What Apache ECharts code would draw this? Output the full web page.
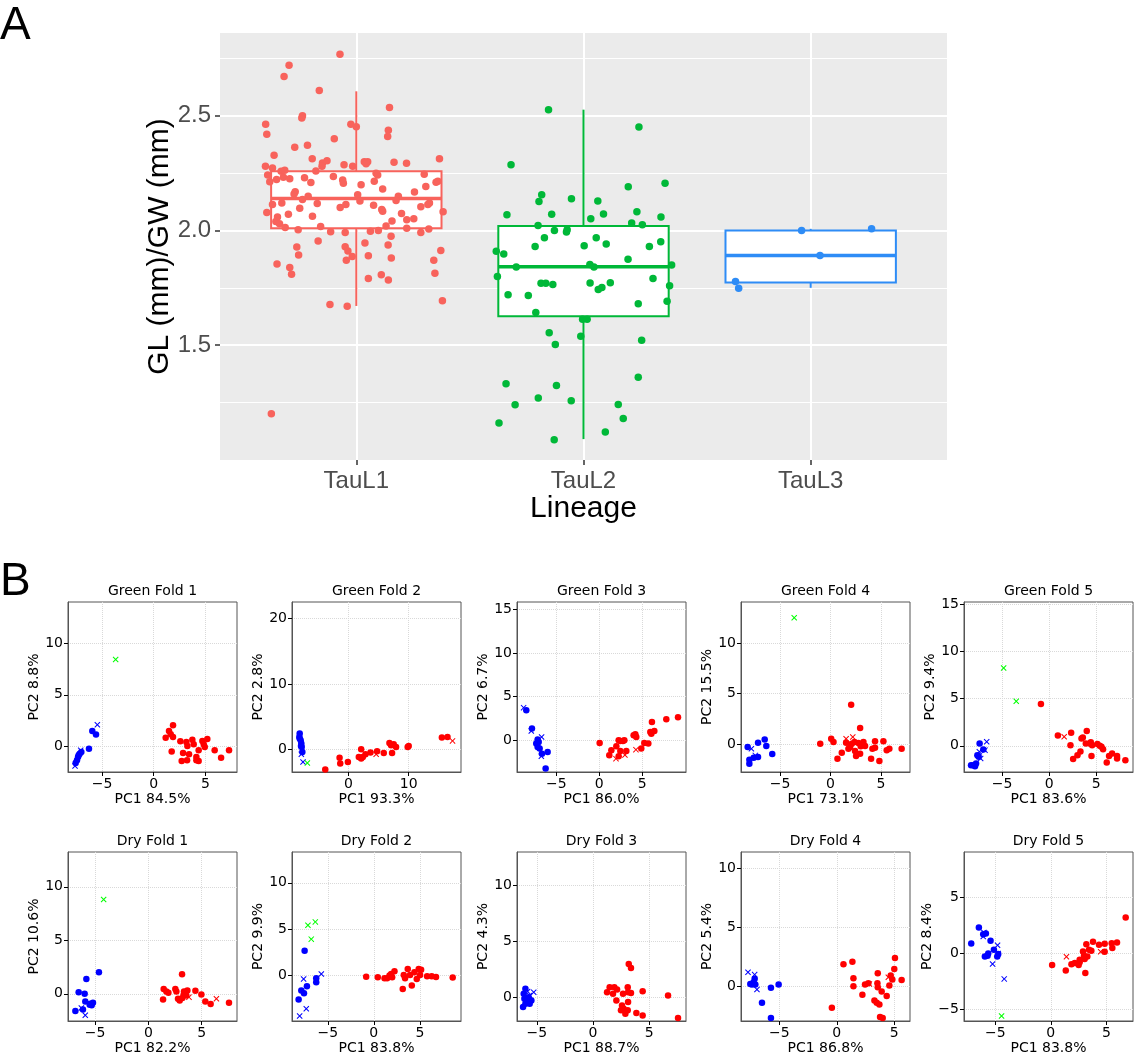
<!DOCTYPE html>
<html>
<head>
<meta charset="utf-8">
<script src="https://cdn.jsdelivr.net/npm/echarts@6/dist/echarts.min.js"></script>
<style>
html, body { margin: 0; padding: 0; background: #fff; }
#main { width: 1135px; height: 1056px; }
</style>
</head>
<body>
<div id="main"></div>
<script>
// ---------- panel A data ----------
var lineages = ['TauL1', 'TauL2', 'TauL3'];
var lineageColors = ['#F8635C', '#00B838', '#2E8CF6'];
// [lower whisker, Q1, median, Q3, upper whisker]
var boxStats = [
    [1.671, 2.009, 2.139, 2.258, 2.606],
    [1.091, 1.626, 1.842, 2.019, 2.526],
    [1.750, 1.773, 1.891, 2.000, 2.007]
];
// [jitter offset, GL/GW]
var tauL1 = [
    [-0.072, 2.767], [-0.296, 2.719], [-0.318, 2.671], [-0.163, 2.609], [0.146, 2.536],
    [-0.237, 2.500], [-0.240, 2.490], [-0.399, 2.462], [-0.394, 2.419], [-0.024, 2.462],
    [0.000, 2.452], [0.141, 2.436], [0.138, 2.409], [-0.097, 2.399], [-0.271, 2.362],
    [-0.215, 2.371], [-0.362, 2.328], [-0.194, 2.312], [-0.149, 2.294], [-0.129, 2.303],
    [-0.151, 2.280], [-0.400, 2.280], [-0.369, 2.272], [-0.054, 2.286], [-0.016, 2.280],
    [0.035, 2.299], [0.050, 2.299], [0.043, 2.291], [0.166, 2.297], [0.221, 2.293],
    [0.366, 2.312], [-0.331, 2.258], [-0.315, 2.262], [-0.178, 2.259], [-0.390, 2.241],
    [-0.381, 2.212], [-0.351, 2.222], [-0.321, 2.232], [-0.293, 2.225], [-0.228, 2.230],
    [-0.200, 2.209], [-0.101, 2.235], [-0.060, 2.220], [-0.057, 2.206], [0.087, 2.249],
    [0.094, 2.241], [0.079, 2.214], [0.021, 2.199], [0.116, 2.180], [0.299, 2.245],
    [0.306, 2.191], [0.351, 2.210], [0.359, 2.214], [-0.269, 2.168], [-0.274, 2.159],
    [-0.237, 2.135], [-0.212, 2.149], [-0.369, 2.113], [-0.328, 2.120], [-0.172, 2.117],
    [-0.249, 2.097], [-0.394, 2.078], [-0.299, 2.070], [-0.347, 2.058], [-0.354, 2.039],
    [-0.338, 2.029], [-0.313, 2.013], [-0.256, 2.003], [-0.193, 2.062], [-0.157, 2.017],
    [-0.113, 1.994], [-0.071, 2.100], [-0.046, 2.113], [0.006, 2.155], [0.016, 2.128],
    [0.076, 2.110], [0.112, 2.091], [0.116, 2.084], [0.185, 2.149], [0.175, 2.130],
    [0.256, 2.167], [0.199, 2.074], [0.222, 2.046], [0.253, 2.051], [0.157, 2.041],
    [0.131, 2.019], [0.222, 2.010], [0.284, 2.103], [0.315, 2.113], [0.322, 2.120],
    [0.382, 2.081], [-0.049, 1.991], [0.062, 1.996], [0.097, 2.000], [0.284, 1.991],
    [0.319, 2.006], [0.153, 1.975], [-0.168, 1.954], [-0.262, 1.928], [-0.254, 1.893],
    [-0.049, 1.929], [-0.037, 1.910], [-0.018, 1.886], [-0.044, 1.870], [0.038, 1.945],
    [0.053, 1.890], [0.140, 1.936], [0.154, 1.880], [0.372, 1.913], [0.341, 1.870],
    [-0.349, 1.854], [-0.293, 1.838], [-0.285, 1.809], [0.053, 1.791], [0.110, 1.807],
    [0.141, 1.784], [0.346, 1.813], [-0.116, 1.677], [-0.040, 1.670], [0.379, 1.694],
    [-0.374, 1.201]
];
var tauL2 = [
    [-0.154, 2.526], [0.244, 2.451], [-0.319, 2.286], [0.197, 2.190], [0.359, 2.206],
    [-0.184, 2.155], [-0.196, 2.126], [-0.053, 2.138], [0.063, 2.128], [-0.337, 2.068],
    [-0.140, 2.071], [0.032, 2.051], [0.088, 2.072], [0.235, 2.081], [0.341, 2.058],
    [-0.200, 2.022], [0.212, 2.032], [0.259, 2.025], [-0.128, 2.000], [-0.075, 1.993],
    [-0.072, 2.003], [-0.172, 1.968], [0.056, 1.968], [-0.213, 1.930], [0.003, 1.933],
    [0.100, 1.941], [0.290, 1.930], [0.340, 1.951], [-0.384, 1.909], [-0.351, 1.897],
    [0.196, 1.875], [-0.296, 1.841], [0.028, 1.852], [0.046, 1.841], [0.388, 1.849],
    [-0.379, 1.799], [0.306, 1.791], [-0.187, 1.770], [-0.166, 1.770], [-0.135, 1.764],
    [0.029, 1.771], [0.065, 1.743], [0.081, 1.751], [0.118, 1.772], [0.379, 1.759],
    [-0.332, 1.720], [-0.243, 1.717], [0.368, 1.691], [0.241, 1.681], [-0.210, 1.642],
    [-0.004, 1.613], [0.016, 1.613], [-0.151, 1.554], [-0.012, 1.539], [-0.124, 1.503],
    [0.256, 1.522], [0.241, 1.361], [-0.341, 1.332], [-0.119, 1.325], [-0.199, 1.270],
    [-0.054, 1.258], [-0.301, 1.241], [0.153, 1.242], [0.175, 1.181], [-0.372, 1.161],
    [0.096, 1.122], [-0.129, 1.088]
];
var tauL3 = [
    [-0.040, 2.000], [0.268, 2.007], [0.041, 1.891], [-0.331, 1.777], [-0.317, 1.748]
];
var yTicksA = [1.5, 2.0, 2.5];
var yMinorA = [1.25, 1.75, 2.25, 2.75];

// ---------- panel B data ----------
var foldTitles = ['Green Fold 1', 'Green Fold 2', 'Green Fold 3', 'Green Fold 4', 'Green Fold 5',
    'Dry Fold 1', 'Dry Fold 2', 'Dry Fold 3', 'Dry Fold 4', 'Dry Fold 5'];
var pc1Labels = ['PC1 84.5%', 'PC1 93.3%', 'PC1 86.0%', 'PC1 73.1%', 'PC1 83.6%',
    'PC1 82.2%', 'PC1 83.8%', 'PC1 88.7%', 'PC1 86.8%', 'PC1 83.8%'];
var pc2Labels = ['PC2 8.8%', 'PC2 2.8%', 'PC2 6.7%', 'PC2 15.5%', 'PC2 9.4%',
    'PC2 10.6%', 'PC2 9.9%', 'PC2 4.3%', 'PC2 5.4%', 'PC2 8.4%'];
var foldXTicks = [[-5, 0, 5], [0, 10], [-5, 0, 5], [-5, 0, 5], [-5, 0, 5],
    [-5, 0, 5], [-5, 0, 5], [-5, 0, 5], [-5, 0, 5], [-5, 0, 5]];
var foldYTicks = [[0, 5, 10], [0, 10, 20], [0, 5, 10, 15], [0, 5, 10], [0, 5, 10, 15],
    [0, 5, 10], [0, 5, 10], [0, 5, 10], [0, 5, 10], [-5, 0, 5]];
var foldXRange = [[-8.29, 8.06], [-9.4, 18.7], [-9.57, 10.08], [-8.88, 7.89], [-9.05, 8.9],
    [-7.53, 8.31], [-8.88, 9.46], [-6.77, 8.28], [-8.35, 6.38], [-7.81, 7.4]];
var foldYRange = [[-2.54, 14.06], [-3.48, 22.54], [-3.63, 15.84], [-2.73, 14.05], [-2.78, 15.27],
    [-2.54, 13.25], [-4.89, 13.32], [-2.1, 12.99], [-2.92, 11.4], [-6.08, 9.05]];

var greenFold1 = {
    blueDot: [[-5.94, 1.47], [-5.58, 1.11], [-6.26, -0.26], [-7.16, -0.75], [-7.32, -1.07],
        [-7.42, -1.40], [-7.55, -1.66], [-7.0, -0.59], [-7.26, -0.91]],
    blueX: [[-7.61, -1.95], [-5.45, 2.08], [-7.06, -0.42]],
    redDot: [[1.16, 0.81], [1.48, 1.47], [1.87, 2.02], [1.65, 1.14], [1.87, 0.88], [1.74, -0.55],
        [2.58, 0.46], [2.84, -0.68], [2.71, -1.47], [3.16, 0.39], [3.26, 0], [3.42, -0.81],
        [3.23, -1.40], [3.74, 0.62], [3.87, 0.16], [4.35, -0.42], [4.13, -1.07], [4.35, -1.47],
        [4.71, 0.49], [4.84, 0.16], [4.94, -0.10], [5.19, 0.68], [5.90, -0.42], [6.52, -1.14],
        [7.29, -0.42], [4.13, -1.40]],
    redX: [],
    limeX: [[-3.68, 8.44]]
};
var greenFold2 = {
    blueDot: [[-8.12, 2.4], [-8.18, 1.89], [-7.96, 1.38], [-7.85, 0.87], [-7.79, 0.36],
        [-7.68, -0.41], [-8.12, 1.63], [-7.9, 0.51]],
    blueX: [[-7.85, -0.77], [-7.57, -1.94]],
    redDot: [[-3.87, -3.11], [-1.49, -1.28], [-1.38, -2.19], [-0.11, -1.94], [2.1, 0], [1.71, -1.17],
        [2.1, -1.43], [2.38, -1.17], [2.82, -0.77], [3.65, -0.51], [4.75, -0.31], [5.86, -0.56],
        [6.8, 0.97], [7.07, 0.61], [7.51, 0.77], [7.9, 0.36], [7.24, -0.56], [9.83, 0.36],
        [10, 0.51], [15.52, 1.79], [16.46, 1.89]],
    redX: [[4.59, -0.77], [17.29, 1.28]],
    limeX: [[-6.85, -2.09]]
};
var greenFold3 = {
    blueDot: [[-8.49, 3.44], [-7.83, 1.34], [-7.17, 0.08], [-7.33, -0.38], [-7.17, -0.76],
        [-6.94, -0.95], [-7.05, -0.19], [-6.67, -1.53], [-6.01, -1.34], [-6.24, -3.24]],
    blueX: [[-8.8, 3.74], [-7.91, 1.07], [-6.71, 0.38], [-6.74, -1.83]],
    redDot: [[0.04, -0.31], [1.16, -1.72], [1.4, -1.15], [1.98, -0.69], [2.25, 0], [2.44, -0.08],
        [2.75, -0.08], [2.91, 0], [2.25, -1.83], [2.44, -1.22], [3.14, -1.22], [3.99, 0.57],
        [4.19, 0.69], [4.3, 0.38], [4.88, -0.95], [5.23, -0.31], [5.7, -0.38], [5.93, 0.95],
        [6.12, 2.1], [6.05, 0.76], [6.4, 1.07], [7.79, 2.4], [9.15, 2.63]],
    redX: [[1.94, -2.1], [2.98, -1.68], [4.26, -1.07]],
    limeX: []
};
var greenFold4 = {
    blueDot: [[-8.22, -0.26], [-8.05, -1.51], [-8.05, -1.91], [-7.62, -1.32], [-7.19, -1.25],
        [-7.19, 0.16], [-6.53, 0.49], [-6.37, -0.16], [-5.78, -0.95]],
    blueX: [[-7.85, -0.43], [-7.46, -1.09]],
    redDot: [[-1.02, 0.07], [0.07, 0.56], [0.3, 0.23], [0.69, -1.41], [1.12, -0.82], [1.55, 0.16],
        [1.78, -0.43], [2.05, 3.91], [2.11, 0.07], [2.38, 0.23], [2.44, -0.66], [2.54, -1.15],
        [2.77, 0.13], [2.94, 1.61], [2.94, -0.92], [3.0, -0.2], [3.43, -0.16], [4.03, -1.41],
        [4.16, -0.43], [4.42, 0.3], [4.42, -0.33], [4.85, -1.64], [5.25, 0.3], [5.58, -0.59],
        [5.84, -0.43], [7.06, -0.43], [1.95, -0.26], [3.27, 0.23]],
    redX: [[1.55, 0.56], [2.21, 0.72]],
    limeX: [[-3.6, 12.5]]
};
var greenFold5 = {
    blueDot: [[-7.39, 0.25], [-7.63, -1.0], [-7.49, -1.17], [-7.0, -0.39], [-8.3, -2.06],
        [-8.06, -2.06], [-7.88, -2.17], [-7.77, -1.89]],
    blueX: [[-6.64, 0.43], [-7.42, -0.64], [-6.82, -0.46], [-7.28, -1.35]],
    redDot: [[-0.88, 4.45], [0.92, 1.1], [2.33, 1.39], [2.26, 0.07], [2.54, -1.39], [3.0, -1.0],
        [3.32, -0.6], [3.43, 0.78], [3.57, 0.89], [3.99, 1.57], [3.89, 0.25], [4.31, 0.25],
        [4.42, 0.39], [4.49, -1.07], [4.56, 0.07], [5.12, 0.18], [5.37, 0], [5.55, -0.11],
        [5.72, -0.36], [6.11, -1.78], [6.36, -1.07], [6.68, -0.82], [7.21, -1.07], [7.21, -1.35],
        [8.09, -1.53]],
    redX: [[1.59, 0.96]],
    limeX: [[-4.84, 8.26], [-3.5, 4.73]]
};
var dryFold1 = {
    blueDot: [[-4.63, 2.01], [-5.81, 1.39], [-6.53, 0.15], [-5.97, 0], [-5.91, -0.71], [-6.84, -1.61],
        [-6.13, -1.46], [-5.44, -0.93], [-5.19, -0.84], [-5.5, -1.02], [-5.31, -1.08]],
    blueX: [[-6.28, -1.33], [-5.91, -2.01]],
    redDot: [[3.16, 1.83], [1.44, 0.46], [1.69, 0.22], [1.88, 0.09], [1.38, -0.53], [2.53, 0.46],
        [2.63, 0.22], [2.78, -0.46], [2.94, -0.62], [3.34, 0.22], [3.31, -0.09], [3.56, -0.15],
        [3.66, 0.31], [3.19, -0.4], [4.41, 0.28], [4.97, -0.06], [5.34, -0.71], [5.84, -0.96],
        [7.56, -0.84]],
    redX: [[3.81, -0.31], [6.38, -0.46]],
    limeX: [[-4.19, 8.82]]
};
var dryFold2 = {
    blueDot: [[-7.51, 2.68], [-6.25, -0.29], [-6.25, -0.71], [-7.26, -1.14], [-7.87, -1.61],
        [-7.58, -1.89], [-8.16, -2.57]],
    blueX: [[-7.62, -0.36], [-5.7, 0.18], [-7.33, -3.57], [-8.05, -4.36]],
    redDot: [[-0.83, -0.11], [0.43, -0.18], [1.16, -0.29], [1.44, -0.29], [1.7, 0], [1.88, 0.18],
        [1.99, -0.18], [2.24, 0.46], [3.25, 0.07], [3.39, -0.29], [3.14, -1.43], [3.68, 0.71],
        [3.93, 0.07], [4.12, -1.07], [4.4, 0.36], [4.66, -0.36], [4.87, 0.71], [5.13, 0.64],
        [5.02, 0.07], [5.78, -0.07], [6.28, -0.07], [6.75, -0.14], [8.56, -0.21]],
    redX: [],
    limeX: [[-7.15, 5.43], [-6.35, 5.79], [-6.79, 3.93]]
};
var dryFold3 = {
    blueDot: [[-6.02, 0.77], [-6.17, 0.33], [-6.11, -0.12], [-6.23, -0.86], [-5.88, -0.41],
        [-5.64, -0.56], [-5.49, -0.27], [-6.02, -0.56], [-5.73, 0.03]],
    blueX: [[-5.28, 0.47], [-5.64, 0.18], [-5.82, 0.53]],
    redDot: [[1.25, 0.47], [1.48, 0.92], [1.78, 0.33], [1.9, 0.92], [2.14, 0.71], [2.08, -0.27],
        [2.67, 0.33], [2.58, -0.71], [2.49, -1.15], [2.73, -1.01], [2.88, -1.45], [3.09, 0.92],
        [3.12, 0.47], [3.12, -0.41], [3.09, -1.15], [3.18, 2.99], [3.38, 2.63], [3.38, 0.41],
        [3.86, -1.39], [4.42, 0.56], [4.42, -1.6], [6.68, 0.18], [7.57, -1.83]],
    redX: [],
    limeX: []
};
var dryFold4 = {
    blueDot: [[-7.54, 0.22], [-7.39, 0.17], [-7.25, 0.37], [-7.16, 0.65], [-7.1, 0.17],
        [-6.52, -1.38], [-5.74, -0.11], [-5.07, 0.17], [-5.74, -2.67]],
    blueX: [[-7.74, 1.21], [-7.16, 1.01], [-6.96, -0.25]],
    redDot: [[-0.43, -1.8], [0.58, 1.88], [1.36, 2.11], [1.45, 0.7], [1.45, 0.03], [2.23, -0.7],
        [2.46, 0.17], [2.75, 0.28], [3.28, -1.18], [3.48, -1.38], [3.57, 1.12], [3.54, 0.28],
        [3.57, -0.06], [3.71, -1.52], [3.77, -2.58], [4.0, -2.67], [3.91, -0.42], [4.35, -0.81],
        [4.58, 0.08], [4.7, 0.93], [4.84, 0.59], [5.01, 1.49], [5.07, 2.42], [5.65, 0.56]],
    redX: [[2.84, 0.22], [4.49, 0.79]],
    limeX: []
};
var dryFold5 = {
    blueDot: [[-7.16, 0.86], [-6.47, 2.28], [-5.84, 1.75], [-5.93, -0.3], [-5.63, -0.03],
        [-5.69, -0.24], [-5.42, 1.1], [-5.12, 0.3], [-4.82, -0.3], [-4.73, -0.09], [-6.08, 1.69]],
    blueX: [[-6.08, 1.48], [-6.02, 1.84], [-4.79, 0.71], [-4.73, -0.03], [-5.24, -0.98], [-4.19, -2.31]],
    redDot: [[0.12, -1.07], [1.35, -1.57], [1.86, -1.01], [2.16, -0.89], [2.51, -1.07], [2.6, -0.59],
        [2.6, -0.83], [2.9, 0.15], [2.99, -0.24], [3.11, -1.78], [3.2, 0.8], [3.29, -0.3],
        [3.44, 0.3], [3.65, 0.21], [3.8, 1.01], [4.34, 0.74], [4.85, 0.83], [4.85, 0.12],
        [5.48, 0.89], [5.54, 0.45], [5.96, 0.95], [6.74, 3.18], [3.05, -0.53]],
    redX: [[1.41, -0.33], [4.49, 0.12]],
    limeX: [[-4.43, -5.64]]
};
var folds = [greenFold1, greenFold2, greenFold3, greenFold4, greenFold5,
    dryFold1, dryFold2, dryFold3, dryFold4, dryFold5];

// ---------- layout ----------
var dom = document.getElementById('main');
var chart = echarts.init(dom, null, { renderer: 'canvas' });

var fontA = 'Liberation Sans, Arial, sans-serif';
var fontB = 'DejaVu Sans, sans-serif';
var boxHalf = 0.375;
var crossPath = 'path://M0,1.2L1.2,0L5,3.8L8.8,0L10,1.2L6.2,5L10,8.8L8.8,10L5,6.2L1.2,10L0,8.8L3.8,5Z';
var colLeft = [68, 292, 517, 741, 964];
var rowTop = [602, 852];
var cellW = 169, cellH = 170;

function mathMinus(v) {
    return String(v).replace('-', '\u2212');
}

var grids = [{ left: 220, top: 33, width: 727, height: 427, show: true, backgroundColor: '#EBEBEB', borderWidth: 0 }];
var xAxes = [{
    gridIndex: 0, type: 'value', min: 0.4, max: 3.6,
    axisLine: { show: false },
    axisTick: { show: true, customValues: [1, 2, 3], length: 5, lineStyle: { color: '#333', width: 1.5 } },
    axisLabel: {
        customValues: [1, 2, 3], margin: 9, fontSize: 24, color: '#4D4D4D', fontFamily: fontA,
        formatter: function (v) { return lineages[Math.round(v) - 1]; }
    },
    splitLine: { show: true, lineStyle: { color: '#fff', width: 2 } },
    name: 'Lineage', nameLocation: 'middle', nameGap: 33,
    nameTextStyle: { fontSize: 30, color: '#000', fontFamily: fontA }
}];
var yAxes = [{
    gridIndex: 0, type: 'value', min: 1.0, max: 2.86,
    axisLine: { show: false },
    axisTick: { show: true, customValues: yTicksA, length: 5, lineStyle: { color: '#333', width: 1.5 } },
    axisLabel: {
        customValues: yTicksA, margin: 9, fontSize: 24, color: '#4D4D4D', fontFamily: fontA,
        formatter: function (v) { return v.toFixed(1); }
    },
    splitLine: { show: true, lineStyle: { color: '#fff', width: 2 } },
    name: 'GL (mm)/GW (mm)', nameLocation: 'middle', nameGap: 45, nameMoveOverlap: false,
    nameTextStyle: { fontSize: 30, color: '#000', fontFamily: fontA }
}, {
    gridIndex: 0, type: 'value', min: 1.0, max: 2.86, position: 'left',
    axisLine: { show: false },
    axisTick: { show: false, customValues: yMinorA },
    axisLabel: { show: false, customValues: yMinorA },
    splitLine: { show: true, lineStyle: { color: '#fff', width: 1 } }
}];

var series = [{
    type: 'custom',
    xAxisIndex: 0, yAxisIndex: 0, z: 2,
    data: boxStats.map(function (s, i) { return [i + 1].concat(s); }),
    encode: { x: 0, y: [1, 2, 3, 4, 5] },
    renderItem: function (params, api) {
        var x = api.value(0);
        var c = lineageColors[params.dataIndex];
        var lo = api.coord([x, api.value(1)]);
        var q1 = api.coord([x, api.value(2)]);
        var md = api.coord([x, api.value(3)]);
        var q3 = api.coord([x, api.value(4)]);
        var hi = api.coord([x, api.value(5)]);
        var l = api.coord([x - boxHalf, api.value(3)])[0];
        var r = api.coord([x + boxHalf, api.value(3)])[0];
        return {
            type: 'group',
            children: [
                { type: 'line', shape: { x1: lo[0], y1: lo[1], x2: q1[0], y2: q1[1] }, style: { stroke: c, lineWidth: 2 } },
                { type: 'line', shape: { x1: q3[0], y1: q3[1], x2: hi[0], y2: hi[1] }, style: { stroke: c, lineWidth: 2 } },
                { type: 'rect', shape: { x: l, y: q3[1], width: r - l, height: q1[1] - q3[1] }, style: { fill: '#fff', stroke: c, lineWidth: 2 } },
                { type: 'line', shape: { x1: l, y1: md[1], x2: r, y2: md[1] }, style: { stroke: c, lineWidth: 3.5 } }
            ]
        };
    }
}];

[tauL1, tauL2, tauL3].forEach(function (pts, i) {
    series.push({
        type: 'scatter', xAxisIndex: 0, yAxisIndex: 0, z: 3,
        symbol: 'circle', symbolSize: 7.5,
        itemStyle: { color: lineageColors[i], opacity: 1 },
        data: pts.map(function (p) { return [i + 1 + p[0], p[1]]; })
    });
});

var graphics = [
    { type: 'text', x: 0, y: 26, style: { text: 'A', fontSize: 46, fontFamily: fontA, fill: '#000', verticalAlign: 'middle' } },
    { type: 'text', x: 0, y: 582, style: { text: 'B', fontSize: 46, fontFamily: fontA, fill: '#000', verticalAlign: 'middle' } }
];

var groups = [
    { key: 'blueDot', symbol: 'circle', size: 6.5, color: '#0000FF' },
    { key: 'blueX', symbol: crossPath, size: 6, color: '#0000FF' },
    { key: 'redDot', symbol: 'circle', size: 6.5, color: '#FF0000' },
    { key: 'redX', symbol: crossPath, size: 6, color: '#FF0000' },
    { key: 'limeX', symbol: crossPath, size: 6, color: '#00FF00' }
];

folds.forEach(function (fold, k) {
    var left = colLeft[k % 5];
    var top = rowTop[Math.floor(k / 5)];
    var gi = k + 1;
    grids.push({ left: left, top: top, width: cellW, height: cellH, show: true, backgroundColor: '#fff', borderColor: '#555', borderWidth: 1 });
    xAxes.push({
        gridIndex: gi, type: 'value', min: foldXRange[k][0], max: foldXRange[k][1],
        axisLine: { show: true, onZero: false, lineStyle: { color: '#555' } },
        axisTick: { show: true, customValues: foldXTicks[k], length: 4, lineStyle: { color: '#000' } },
        axisLabel: { customValues: foldXTicks[k], margin: 5, fontSize: 14, color: '#000', fontFamily: fontB, formatter: mathMinus },
        splitLine: { show: true, lineStyle: { color: '#d9d9d9', type: 'dotted', width: 1 } },
        name: pc1Labels[k], nameLocation: 'middle', nameGap: 20,
        nameTextStyle: { fontSize: 14, color: '#000', fontFamily: fontB }
    });
    yAxes.push({
        gridIndex: gi, type: 'value', min: foldYRange[k][0], max: foldYRange[k][1],
        axisLine: { show: true, onZero: false, lineStyle: { color: '#555' } },
        axisTick: { show: true, customValues: foldYTicks[k], length: 4, lineStyle: { color: '#000' } },
        axisLabel: { customValues: foldYTicks[k], margin: 5, fontSize: 14, color: '#000', fontFamily: fontB, formatter: mathMinus },
        splitLine: { show: true, lineStyle: { color: '#d9d9d9', type: 'dotted', width: 1 } },
        name: pc2Labels[k], nameLocation: 'middle', nameGap: 27,
        nameTextStyle: { fontSize: 14, color: '#000', fontFamily: fontB }
    });
    groups.forEach(function (g) {
        series.push({
            type: 'scatter', xAxisIndex: gi, yAxisIndex: gi + 1,
            symbol: g.symbol, symbolSize: g.size,
            itemStyle: { color: g.color, opacity: 1 },
            data: fold[g.key]
        });
    });
    graphics.push({
        type: 'text', x: left + cellW / 2, y: top - 11,
        style: { text: foldTitles[k], fontSize: 14, fontFamily: fontB, fill: '#000', align: 'center', verticalAlign: 'middle' }
    });
});

var option = {
    animation: false,
    backgroundColor: '#fff',
    grid: grids,
    xAxis: xAxes,
    yAxis: yAxes,
    series: series,
    graphic: graphics
};

chart.setOption(option);
</script>
</body>
</html>
